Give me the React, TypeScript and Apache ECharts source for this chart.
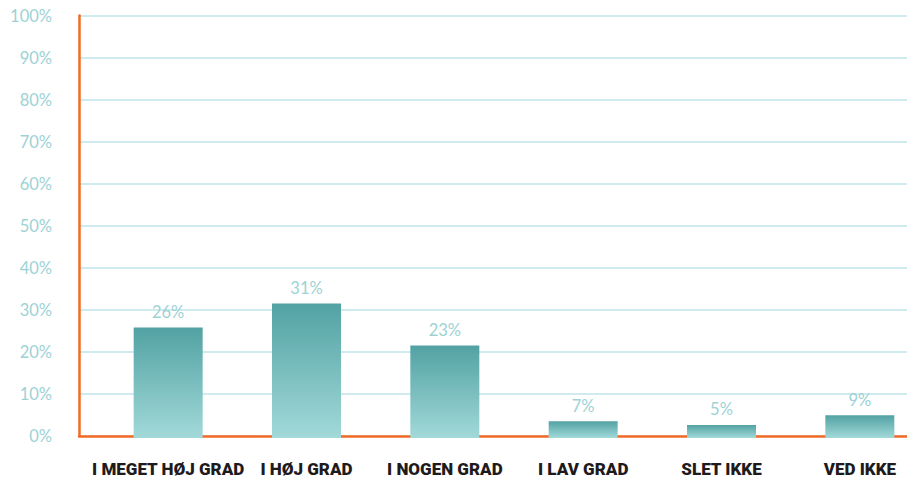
import React, { useEffect, useRef } from "react";
import * as echarts from "echarts";

const categories = ["I MEGET HØJ GRAD", "I HØJ GRAD", "I NOGEN GRAD", "I LAV GRAD", "SLET IKKE", "VED IKKE"];
const barValues = [26.3, 32.0, 22.0, 4.0, 3.1, 5.4];
const barLabels = ["26%", "31%", "23%", "7%", "5%", "9%"];
const yTicks = [0, 10, 20, 30, 40, 50, 60, 70, 80, 90, 100];

export default function App() {
  const ref = useRef<HTMLDivElement>(null);
  useEffect(() => {
    const chart = echarts.init(ref.current!, null, { renderer: "svg" });
    const lightFont = "Lato, 'Open Sans', sans-serif";
    chart.setOption({
      animation: false,
      grid: [
        { left: 79, top: 15.5, width: 828, height: 420.5, outerBoundsMode: "none" },
        { left: 99, top: 17.5, width: 830, height: 420.5, outerBoundsMode: "none" },
      ],
      xAxis: [
        {
          gridIndex: 0,
          type: "value",
          min: 0,
          max: 1,
          offset: 2,
          axisLine: { show: true, lineStyle: { color: "#f26a26", width: 2.5 } },
          axisTick: { show: false },
          axisLabel: { show: false },
          splitLine: { show: false },
        },
        {
          gridIndex: 1,
          type: "category",
          data: categories,
          axisLine: { show: false },
          axisTick: { show: false },
          axisLabel: {
            interval: 0,
            margin: 22,
            color: "#1f1b1c",
            fontSize: 17,
            fontWeight: 900,
            fontFamily: "Roboto, sans-serif",
          },
        },
      ],
      yAxis: [
        {
          gridIndex: 0,
          type: "value",
          min: yTicks[0],
          max: yTicks[yTicks.length - 1],
          interval: 10,
          axisLine: { show: true, lineStyle: { color: "#f26a26", width: 2.5 } },
          axisTick: { show: false },
          axisLabel: {
            margin: 27,
            color: "#9dd2d4",
            fontSize: 16.5,
            fontWeight: "normal",
            fontFamily: lightFont,
            formatter: (v: number) => `${v}%`,
          },
          splitLine: { show: true, lineStyle: { color: "#bfe4ea", width: 1.5 } },
        },
        {
          gridIndex: 1,
          type: "value",
          min: 0,
          max: 100,
          show: false,
          splitLine: { show: false },
        },
      ],
      series: [
        {
          type: "bar",
          xAxisIndex: 1,
          yAxisIndex: 1,
          data: barValues,
          barWidth: 69,
          itemStyle: {
            color: new echarts.graphic.LinearGradient(0, 0, 0, 1, [
              { offset: 0, color: "#52a2a3" },
              { offset: 1, color: "#a2d9d9" },
            ]),
          },
          label: {
            show: true,
            position: "top",
            distance: 7,
            color: "#9dd2d4",
            fontSize: 16.5,
            fontWeight: "normal",
            fontFamily: lightFont,
            formatter: (p: any) => barLabels[p.dataIndex],
          },
        },
      ],
    });
    return () => chart.dispose();
  }, []);
  return (
    <div
      ref={ref}
      style={{ position: "fixed", left: 0, top: 0, width: 907, height: 477, background: "#fff" }}
    />
  );
}
